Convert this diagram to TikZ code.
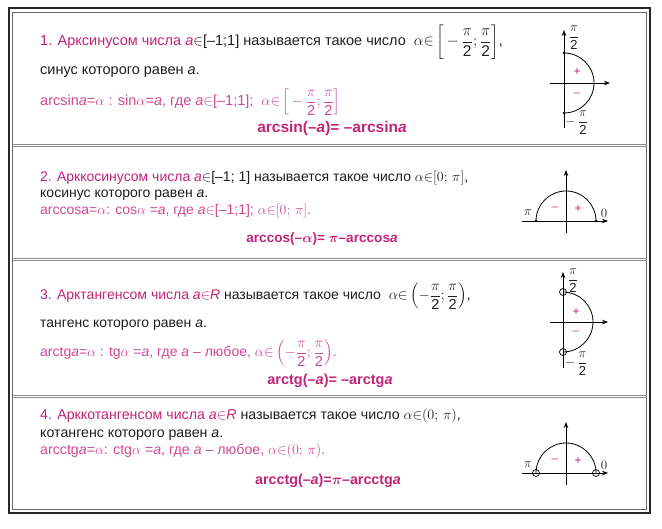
\documentclass[tikz,border=0pt]{standalone}
\usepackage{fix-cm}
\usepackage{amsmath}
\usepackage{fontspec}
\setmainfont{Liberation Sans}
\usetikzlibrary{arrows.meta}
\definecolor{mg}{RGB}{192,36,120}
\definecolor{pk}{RGB}{208,72,148}
\definecolor{tx}{RGB}{30,30,30}
\newcommand\pfr{\dfrac{\pi}{\text{2}}}
\newcommand\bigf[2][15.5]{{\fontsize{#1}{17}\selectfont$#2$}}
\begin{document}
\begin{tikzpicture}[x=1pt,y=-1pt,
  txt/.style={anchor=base west,inner sep=0pt,font=\fontsize{#1}{16}\selectfont,text=tx},
  txt/.default=14,
  pinktxt/.style={txt=#1,text=pk},
  pinktxt/.default=14,
  boldtxt/.style={anchor=base,inner sep=0pt,font=\fontsize{#1}{16}\selectfont\bfseries,text=mg},
  boldtxt/.default=14,
  axisline/.style={line width=0.8pt,-{Stealth[length=6pt,width=4.5pt]}},
  arcline/.style={line width=0.8pt},
  sign/.style={inner sep=0pt,font=\fontsize{12}{14}\selectfont},
  lbl/.style={inner sep=0pt,font=\fontsize{13}{15}\selectfont,text=tx},
  outerframe/.style={line width=2pt,draw=black!85},
  innerframe/.style={line width=0.7pt,draw=black!60},
  sepline/.style={line width=0.7pt,draw=black!45},
]
\useasboundingbox (0,0) rectangle (662,529);
% frame
\draw[outerframe] (8.5,8.5) rectangle (650,512.5);
\draw[innerframe] (12.5,12.5) rectangle (646.5,509);
\foreach \yy in {144,258,395}{
  \draw[sepline] (12.5,\yy) -- (646.5,\yy);
  \draw[sepline] (12.5,\yy+2.5) -- (646.5,\yy+2.5);
}
% ---------- section 1
\node[txt=14.5] (s1a) at (40,46) {\textcolor{mg}{1. Арксинусом числа \textit{a}}$\in$[–1;1] называется такое число \ \bigf{\alpha{\in}\left[\,-\,\pfr;\pfr\right]},};
\node[txt=14.5] (s1b) at (40,75) {синус которого равен \textit{a}.};
\node[pinktxt=14.5] (s1c) at (40,106) {arcsin\textit{a}=$\alpha$ : sin$\alpha$=\textit{a}, где \textit{a}$\in$[–1;1]; \ \bigf[14.5]{\alpha{\in}\left[\,-\,\pfr;\pfr\right]}};
\node[boldtxt=15.5] (s1d) at (332,133) {arcsin(–\textit{a})= –arcsin\textit{a}};
% diagram 1
\draw[axisline] (564,128) -- (564,30);
\draw[axisline] (550,83) -- (610,83);
\draw[arcline] (564,53) arc[start angle=90,end angle=-90,radius=30pt];
\fill (564,53) circle (1.3pt);
\fill (564,113) circle (1.3pt);
\node[sign,text=mg] (p1) at (577,72) {+};
\node[sign,text=pk] (m1) at (577,95) {–};
\node[lbl] (t1) at (574,38) {$\pfr$};
\node[lbl,anchor=west] (b1) at (565.5,123) {$-\,\pfr$};
% ---------- section 2
\node[txt] (s2a) at (40,182) {\textcolor{mg}{2. Арккосинусом числа \textit{a}}$\in$[–1; 1] называется такое число $\alpha{\in}[0;\,\pi]$,};
\node[txt] (s2b) at (40,198) {косинус которого равен \textit{a}.};
\node[pinktxt] (s2c) at (40,215) {arccosa=$\alpha$: cos$\alpha$ =\textit{a}, где \textit{a}$\in$[–1;1]; $\alpha{\in}[0;\,\pi]$.};
\node[boldtxt=13.6] (s2d) at (322,243) {arccos(–$\boldsymbol{\alpha}$)= $\boldsymbol{\pi}$–arccos\textit{a}};
% diagram 2
\draw[axisline] (566,233) -- (566,170);
\draw[axisline] (522,221) -- (608,221);
\draw[arcline] (536,221) arc[start angle=180,end angle=0,radius=30pt];
\fill (536,221) circle (1.3pt);
\fill (596,221) circle (1.3pt);
\node[sign,text=pk] (m2) at (555,209) {–};
\node[sign,text=mg] (p2) at (578,209) {+};
\node[lbl] (pi2) at (528,213) {$\pi$};
\node[lbl] (z2) at (604,213) {$0$};
% ---------- section 3
\node[txt=14] (s3a) at (40,300) {\textcolor{mg}{3. Арктангенсом числа \textit{a}$\in$\textit{R}} называется такое число \ \bigf[14.5]{\alpha{\in}\left(-\pfr;\pfr\right)},};
\node[txt=14] (s3b) at (40,328) {тангенс которого равен \textit{a}.};
\node[pinktxt=14] (s3c) at (40,357) {arctg\textit{a}=$\alpha$ : tg$\alpha$ =\textit{a}, где \textit{a} – любое, \bigf[14.5]{\alpha{\in}\left(-\pfr;\pfr\right)}.};
\node[boldtxt=14.5] (s3d) at (330,385) {arctg(–\textit{a})= –arctg\textit{a}};
% diagram 3
\draw[axisline] (563,368) -- (563,272);
\draw[axisline] (550,322) -- (608,322);
\draw[arcline] (563,292) arc[start angle=90,end angle=-90,radius=30pt];
\draw[line width=0.7pt] (563,292) circle (3.5pt);
\draw[line width=0.7pt] (563,352) circle (3.5pt);
\node[sign,text=mg] (p3) at (576,312) {+};
\node[sign,text=pk] (m3) at (576,333) {–};
\node[lbl] (t3) at (573,281) {$\pfr$};
\node[lbl,anchor=west] (b3) at (565,364) {$-\,\pfr$};
% ---------- section 4
\node[txt=14.2] (s4a) at (40,420) {\textcolor{mg}{4. Арккотангенсом числа \textit{a}$\in$\textit{R}} называется такое число $\alpha{\in}(0;\,\pi)$,};
\node[txt=14.2] (s4b) at (40,438) {котангенс которого равен \textit{a}.};
\node[pinktxt=14.2] (s4c) at (40,455) {arcctg\textit{a}=$\alpha$: ctg$\alpha$ =\textit{a}, где \textit{a} – любое, $\alpha{\in}(0;\,\pi)$.};
\node[boldtxt=14.3] (s4d) at (328,485) {arcctg(–\textit{a})=$\boldsymbol{\pi}$–arcctg\textit{a}};
% diagram 4
\draw[axisline] (566,485) -- (566,422);
\draw[axisline] (522,473) -- (608,473);
\draw[arcline] (536,473) arc[start angle=180,end angle=0,radius=30pt];
\draw[line width=0.7pt] (536,473) circle (3.5pt);
\draw[line width=0.7pt] (596,473) circle (3.5pt);
\node[sign,text=pk] (m4) at (555,461) {–};
\node[sign,text=mg] (p4) at (578,461) {+};
\node[lbl] (pi4) at (528,465) {$\pi$};
\node[lbl] (z4) at (604,465) {$0$};
\end{tikzpicture}
\end{document}
